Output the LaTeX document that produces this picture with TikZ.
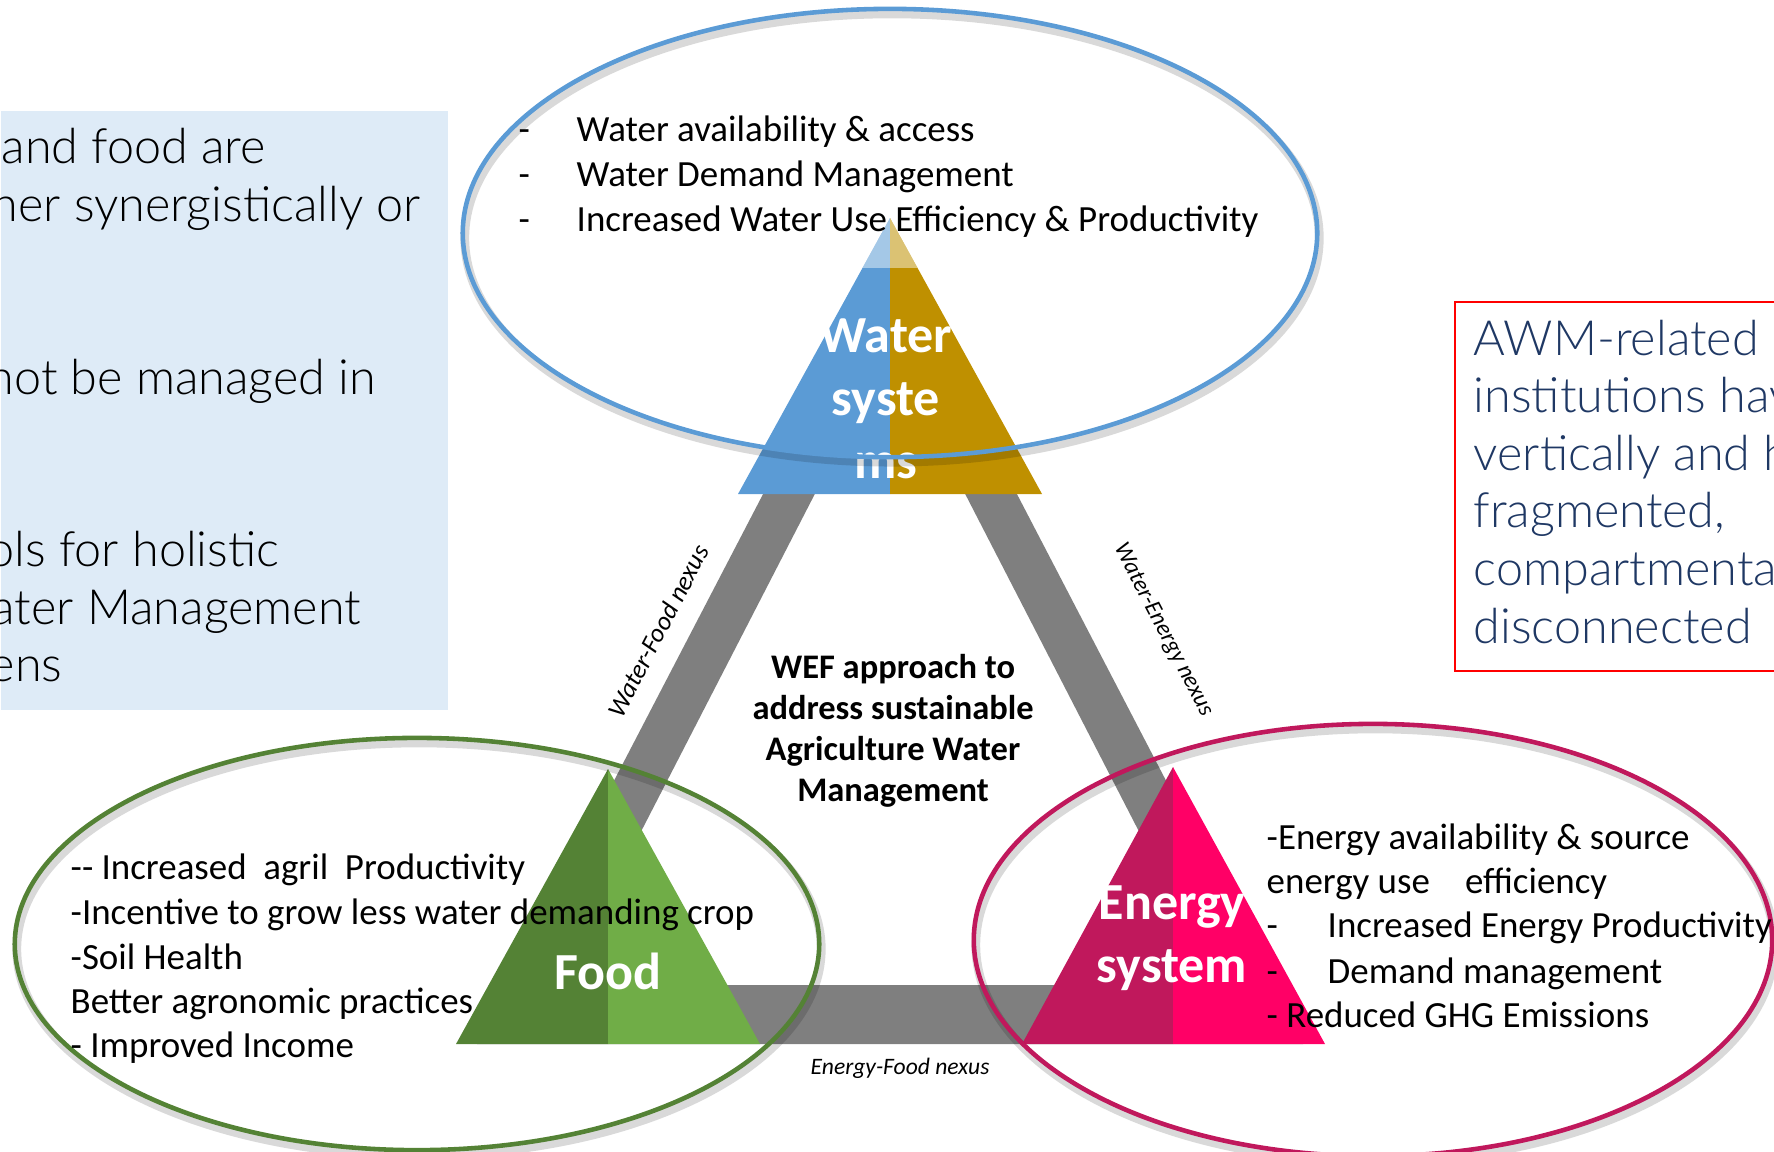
\documentclass[tikz,border=0pt]{standalone}
\usepackage{fontspec}
\setmainfont{Carlito}
\IfFontExistsTF{Lato Light}{\newfontfamily\boxfont{Lato Light}}{\newfontfamily\boxfont{Lato}}
\usetikzlibrary{calc,shapes.geometric}

\definecolor{panel}{HTML}{DEEBF7}
\definecolor{navy}{HTML}{1F3864}
\definecolor{wblue}{HTML}{5B9BD5}
\definecolor{wgold}{HTML}{BF9000}
\definecolor{fdark}{HTML}{548235}
\definecolor{flight}{HTML}{70AD47}
\definecolor{edark}{HTML}{C0185C}
\definecolor{elight}{HTML}{FF0066}
\definecolor{band}{HTML}{7F7F7F}

\tikzset{
  listtext/.style={anchor=base west, inner sep=0pt, text=black,
    font=\fontsize{10.5}{12.8}\selectfont},
  boxtext/.style={anchor=base west, inner sep=0pt,
    font={\boxfont\fontsize{13.8}{16.4}\selectfont}},
  trilabel/.style={text=white, align=center, inner sep=0pt,
    font=\bfseries\fontsize{14.8}{17.9}\selectfont},
  nexus/.style={inner sep=0pt, font=\itshape\fontsize{6.7}{8}\selectfont},
  ring/.style={ellipse, draw, line width=1.3pt, inner sep=0pt},
  ringshadow/.style={ellipse, draw=black, draw opacity=0.15, line width=2.5pt, inner sep=0pt},
}

\begin{document}
\begin{tikzpicture}[x=0.01cm,y=-0.01cm]
\useasboundingbox (0,0) rectangle (1774,1151);

% ---- left information panel ----
\node[fill=panel, anchor=north west, inner sep=0pt,
      minimum width=4.47cm, minimum height=5.99cm] (infopanel) at (0,110) {};
\node[boxtext] (p1) at (1,163) {and food are};
\node[boxtext] (p2) at (-9,221) {her synergistically or};
\node[boxtext] (p3) at (-13,394) {not be managed in};
\node[boxtext] (p4) at (-13,566) {ols for holistic};
\node[boxtext] (p5) at (-9,624) {ater Management};
\node[boxtext] (p6) at (-11,681) {ens};

% ---- right remark box ----
\node[draw=red, line width=0.6pt, anchor=north west, inner sep=0pt,
      minimum width=3.6cm, minimum height=3.69cm] (awmbox) at (1454,301) {};
\foreach \t [count=\i] in {AWM-related p, institutions hav, vertically and h,
    {fragmented,}, compartmenta, disconnected}
  \node[boxtext, text=navy] (r\i) at ({1473},{355+57.6*(\i-1)}) {\t};

% ---- grey nexus frame ----
\coordinate (oA) at (890,250);  \coordinate (oB) at (477,1044); \coordinate (oC) at (1303,1044);
\coordinate (iA) at (890,348);  \coordinate (iB) at (562,985);  \coordinate (iC) at (1218,985);
\fill[band, even odd rule] (oA) -- (oB) -- (oC) -- cycle (iA) -- (iB) -- (iC) -- cycle;

% ---- the three pillars ----
\coordinate (wA) at (890,218);  \coordinate (wL) at (738,494);  \coordinate (wR) at (1042,494);
\coordinate (wM) at (890,494);
\fill[wblue] (wA) -- (wL) -- (wM) -- cycle;
\fill[wgold] (wA) -- (wM) -- (wR) -- cycle;
\fill[white, opacity=0.45] (wA) -- ($(wA)!0.181!(wL)$) -- ($(wA)!0.181!(wR)$) -- cycle;

\coordinate (fA) at (608,769);  \coordinate (fL) at (456,1044); \coordinate (fR) at (760,1044);
\coordinate (fM) at (608,1044);
\fill[fdark] (fA) -- (fL) -- (fM) -- cycle;
\fill[flight] (fA) -- (fM) -- (fR) -- cycle;

\coordinate (eA) at (1173,767); \coordinate (eL) at (1022,1044); \coordinate (eR) at (1325,1044);
\coordinate (eM) at (1173,1044);
\fill[edark] (eA) -- (eL) -- (eM) -- cycle;
\fill[elight] (eA) -- (eM) -- (eR) -- cycle;

\node[trilabel] (wlabel) at (886,399) {Water\\syste\\ms};
\node[trilabel] (flabel) at (608,971) {Food};
\node[trilabel] (elabel) at (1172,938) {Energy\\system};

% ---- rings ----
\node[ringshadow, minimum width=8.54cm, minimum height=4.48cm] (wshadow) at (892,238) {};
\node[ring, draw=wblue, minimum width=8.54cm, minimum height=4.48cm] (wring) at (890,233) {};
\node[ringshadow, minimum width=8.04cm, minimum height=4.12cm] (fshadow) at (419,949) {};
\node[ring, draw=fdark, minimum width=8.04cm, minimum height=4.12cm] (fring) at (417,944) {};
\node[ringshadow, minimum width=7.98cm, minimum height=4.32cm] (eshadow) at (1375,945) {};
\node[ring, draw=edark, minimum width=7.98cm, minimum height=4.32cm] (ering) at (1373,940) {};

% ---- water list ----
\foreach \t [count=\i] in {Water availability \& access, Water Demand Management,
    Increased Water Use Efficiency \& Productivity} {
  \node[listtext] (wd\i) at ({518},{141+45*(\i-1)}) {-};
  \node[listtext] (wl\i) at ({576},{141+45*(\i-1)}) {\t};
}

% ---- food list ----
\node[listtext] (fl1) at (70,879)  {-{}- Increased\ \ agril\ \ Productivity};
\node[listtext] (fl2) at (70,924)  {-Incentive to grow less water demanding crop};
\node[listtext] (fl3) at (70,969)  {-Soil Health};
\node[listtext] (fl4) at (70,1013) {Better agronomic practices};
\node[listtext] (fl5) at (70,1057) {- Improved Income};

% ---- energy list ----
\node[listtext] (el1) at (1266,849)  {-Energy availability \& source};
\node[listtext] (el2) at (1266,893)  {energy use\hspace{0.95em}efficiency};
\node[listtext] (ed3) at (1266,937)  {-};
\node[listtext] (el3) at (1327,937)  {Increased Energy Productivity};
\node[listtext] (ed4) at (1266,983)  {-};
\node[listtext] (el4) at (1327,983)  {Demand management};
\node[listtext] (el5) at (1266,1027) {- Reduced GHG Emissions};

% ---- centre statement ----
\node[align=center, inner sep=0pt, font=\bfseries\fontsize{9.8}{11.7}\selectfont]
  (wef) at (893,731) {WEF approach to\\address sustainable\\Agriculture Water\\Management};

% ---- nexus labels ----
\node[nexus, rotate=62.5, font=\itshape\fontsize{7.4}{8.8}\selectfont] (wfnexus) at (658,631) {Water-Food nexus};
\node[nexus, rotate=-62.5] (wenexus) at (1163,630) {Water-Energy nexus};
\node[nexus] (efnexus) at (900,1068) {Energy-Food nexus};
\end{tikzpicture}
\end{document}
